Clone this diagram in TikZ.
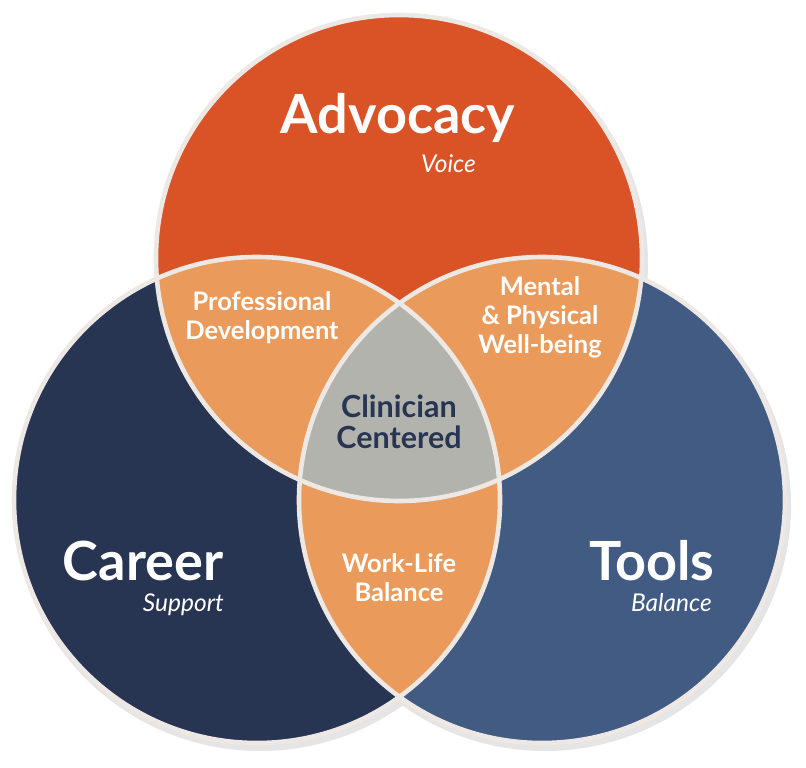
\documentclass[tikz,border=0pt]{standalone}
\usepackage{fontspec}
\setmainfont{Lato}
\definecolor{advred}{HTML}{D95327}
\definecolor{peach}{HTML}{EA9A5A}
\definecolor{coregray}{HTML}{B3B3AE}
\definecolor{navy}{HTML}{283552}
\definecolor{steel}{HTML}{425B82}
\definecolor{rim}{HTML}{EEE8E5}
\newcommand{\stack}[1]{\begin{tabular}[t]{@{}c@{}}#1\end{tabular}}
\tikzset{
  rimline/.style={draw=rim, line width=4.6pt},
  bigword/.style={text=white, font=\bfseries\fontsize{54}{58}\selectfont, inner sep=0pt, anchor=base},
  subword/.style={text=white, font=\itshape\fontsize{24.5}{28}\selectfont, inner sep=0pt, anchor=base east},
  lapword/.style={text=white, font=\bfseries\fontsize{25.5}{29}\selectfont, inner sep=0pt, anchor=base},
  coreword/.style={text=navy, font=\bfseries\fontsize{30.5}{29}\selectfont, inner sep=0pt, anchor=base}
}
\begin{document}
\begin{tikzpicture}[x=1pt,y=-1pt]
\useasboundingbox (0,0) rectangle (806,768);
\coordinate (ct) at (399,258);
\coordinate (cl) at (257,500);
\coordinate (cr) at (542,500);
% soft shadow
\begin{scope}[transparency group, opacity=0.10]
  \fill[black] ([shift={(3,5)}]ct) circle[radius=246pt];
  \fill[black] ([shift={(3,5)}]cl) circle[radius=246pt];
  \fill[black] ([shift={(3,5)}]cr) circle[radius=246pt];
\end{scope}
% main circles
\fill[advred] (ct) circle[radius=243pt];
\fill[navy] (cl) circle[radius=243pt];
\fill[steel] (cr) circle[radius=243pt];
% pairwise overlaps
\begin{scope}
  \clip (ct) circle[radius=243pt];
  \fill[peach] (cl) circle[radius=243pt];
  \fill[peach] (cr) circle[radius=243pt];
\end{scope}
\begin{scope}
  \clip (cl) circle[radius=243pt];
  \fill[peach] (cr) circle[radius=243pt];
\end{scope}
% triple overlap
\begin{scope}
  \clip (ct) circle[radius=243pt];
  \clip (cl) circle[radius=243pt];
  \fill[coregray] (cr) circle[radius=243pt];
\end{scope}
% outlines
\draw[rimline] (ct) circle[radius=243pt];
\draw[rimline] (cl) circle[radius=243pt];
\draw[rimline] (cr) circle[radius=243pt];
% labels
\node[bigword] (adv) at (398,133) {Advocacy};
\node[subword] (voice) at (476,172) {Voice};
\node[bigword] (career) at (143,580) {Career};
\node[subword] (support) at (224,611) {Support};
\node[bigword] (tools) at (652,580) {Tools};
\node[subword] (bal) at (712,611) {Balance};
\node[lapword] (prof) at (262,310) {\stack{Professional\\Development}};
\node[lapword] (mental) at (540,295) {\stack{Mental\\\& Physical\\Well-being}};
\node[lapword] (work) at (399,572) {\stack{Work-Life\\Balance}};
\node[coreword] (core) at (399,417) {\stack{Clinician\\Centered}};
\end{tikzpicture}
\end{document}
